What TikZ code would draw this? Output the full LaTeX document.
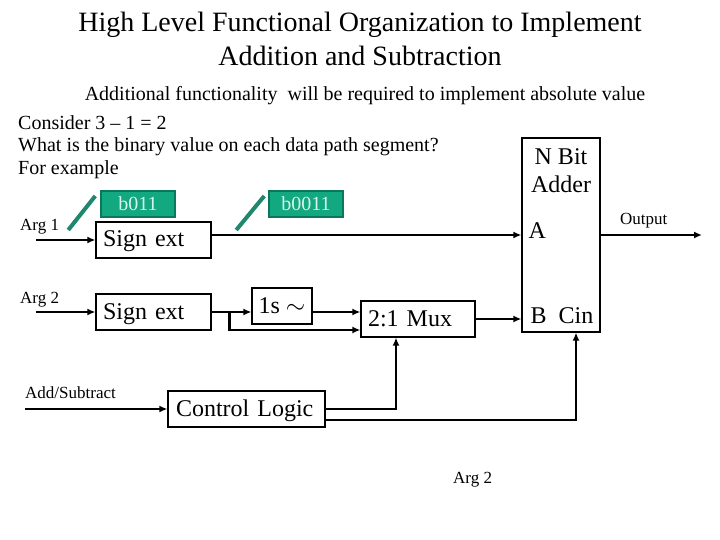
\documentclass[tikz,border=0pt]{standalone}
\usepackage{fontspec}
\setmainfont{Liberation Serif}
\usepackage{tikz}
\usetikzlibrary{calc,arrows.meta}
\definecolor{tagfill}{RGB}{18,168,128}
\definecolor{tagedge}{RGB}{10,120,95}
\definecolor{tagtext}{RGB}{215,245,235}
\definecolor{slashgreen}{RGB}{30,135,110}
\newcommand{\boxfont}{\fontsize{24}{28}\selectfont}
\newcommand{\smallfont}{\fontsize{17}{20}\selectfont}
\newcommand{\notefont}{\fontsize{20}{23}\selectfont}

\begin{document}
\begin{tikzpicture}[x=1pt,y=-1pt,
  blk/.style={draw,line width=1.2pt,inner ysep=0pt,minimum height=36pt,text height=20pt,text depth=6pt,font=\boxfont},
  wire/.style={line width=2.6pt,-{Latex[length=8pt,width=7pt]}},
  tag/.style={draw=tagedge,line width=1.5pt,fill=tagfill,text=tagtext,minimum width=74pt,minimum height=26pt,inner sep=0pt,font=\notefont},
  lbl/.style={anchor=base west,inner sep=0pt,font=\smallfont},
  txt/.style={anchor=base west,inner sep=0pt,font=\notefont}]
\useasboundingbox (0,0) rectangle (720,540);

\node[anchor=base,inner sep=0pt,font=\fontsize{28}{33}\selectfont] (title1) at (360,32) {High Level Functional Organization to Implement};
\node[anchor=base,inner sep=0pt,font=\fontsize{28}{33}\selectfont] (title2) at (360,66) {Addition and Subtraction};
\node[anchor=base,inner sep=0pt,font=\notefont] (sub) at (365,101) {Additional functionality\ \ will be required to implement absolute value};
\node[txt] (q1) at (18,130) {Consider 3 -- 1 = 2};
\node[txt] (q2) at (18,152) {What is the binary value on each data path segment?};
\node[txt] (q3) at (18,175) {For example};

\node[blk,inner xsep=7pt,text width=101pt,align=left] (se1) at (153.5,240) {Sign ext};
\node[blk,inner xsep=7pt,text width=101pt,align=left] (se2) at (153.5,312) {Sign ext};
\node[blk,minimum width=60pt,inner xsep=0pt] (ones) at (282,306) {1s $\sim$};
\node[blk,inner xsep=7pt,text width=100pt,align=left] (mux) at (418,319) {2:1 Mux};
\node[blk,inner xsep=8pt,text width=141pt,align=left] (cl) at (246.5,409) {Control Logic};
\node[draw,line width=1.2pt,minimum width=78pt,minimum height=194pt,inner sep=0pt] (add) at (561,235) {};
\node[anchor=base,inner sep=0pt,font=\boxfont] (addn) at ($(add.north)+(0,27)$) {N Bit};
\node[anchor=base,inner sep=0pt,font=\boxfont] (adda) at ($(add.north)+(0,55)$) {Adder};
\node[anchor=base west,inner sep=0pt,font=\boxfont] (porta) at ($(add.west)+(7,3)$) {A};
\node[anchor=base west,inner sep=0pt,font=\boxfont] (portb) at ($(add.west)+(9,88)$) {B\ \ Cin};

\node[tag] (t1) at (138,204) {b011};
\node[tag] (t2) at (306,204) {b0011};
\draw[slashgreen,line width=4pt]
($(t1.west)+(-5,-8)$) -- ($(t1.west)+(-32,26)$)
($(t2.west)+(-4,-8)$) -- ($(t2.west)+(-32,26)$);

\node[lbl] (arg1) at (20,230) {Arg 1};
\node[lbl] (arg2) at (20,303) {Arg 2};
\node[lbl] (addsub) at (25,398) {Add/Subtract};
\node[lbl] (outl) at (620,225) {Output};
\node[lbl] (arg2b) at (453,483) {Arg 2};

\coordinate (in1) at (36,240);
\coordinate (in2) at (36,312);
\coordinate (inc) at (25,409);
\coordinate (out) at (702,235);

\draw[wire] (in1) -- (se1);
\draw[wire] (in2) -- (se2);
\draw[wire] (inc) -- (cl);
\draw[wire] (se1.east |- add.west) -- (add.west);
\draw[wire] (add.east) -- (out);
\draw[wire] (se2.east) -- (se2.east -| ones.west);
\draw[wire] (se2.east -| ones.east) -- (se2.east -| mux.west);
\draw[wire] ($(se2.east)+(18,0)$) |- ($(mux.west)+(0,11)$);
\draw[wire] (mux.east) -- (mux.east -| add.west);
\draw[wire] (cl.east) -| ($(mux.south)+(-22,0)$);
\draw[wire,line width=2.2pt] ($(cl.east)+(0,11)$) -| ($(add.south)+(15,0)$);
\end{tikzpicture}
\end{document}
